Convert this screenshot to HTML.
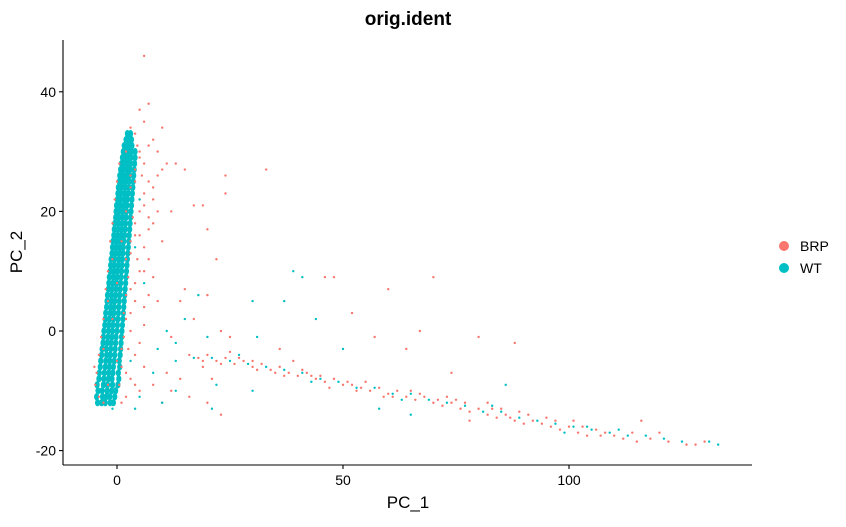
<!DOCTYPE html>
<html><head><meta charset="utf-8"><style>
body{margin:0;background:#fff;font-family:"Liberation Sans",sans-serif}
svg text{font-family:"Liberation Sans",sans-serif}
</style></head><body>
<svg id="chart" width="846" height="522">
<text x="408" y="25" text-anchor="middle" font-size="19" font-weight="bold">orig.ident</text>
<g id="pts"></g>
<g id="axes"></g>
<text x="408" y="508" text-anchor="middle" font-size="17">PC_1</text>
<text x="22" y="252" text-anchor="middle" font-size="17" transform="rotate(-90 22 252)">PC_2</text>
<g>
<g><circle cx="784" cy="246" r="5" fill="#F8766D"/><text x="800" y="251" font-size="14">BRP</text></g>
<g><circle cx="784" cy="268" r="5" fill="#00BFC4"/><text x="800" y="273" font-size="14">WT</text></g>
</g>
</svg>
<script>
const xTicks=[0,50,100];
const yTicks=[-20,0,20,40];
const brpPoints=[[4,33],[5,30],[6,28],[4,27],[7,25],[3,24],[6,23],[8,22],[5,20],[4,18],[7,17],[3,15],[6,14],[2,12],[5,10],[8,9],[3,7],[4,5],[6,4],[2,2],[3,0],[5,-2],[4,-4],[6,-6],[3,-8],[5,-10],[2,-11],[1,-12],[7,31],[9,30],[9,26],[8,24],[10,27],[6,35],[5,37],[7,38],[6,46],[8,32],[9,20],[7,19],[10,15],[-4,-11],[-3,-12],[-2,-9],[-5,-6],[0,-5],[1,-3],[-1,2],[0,8],[1,15],[2,20],[3,26],[-3,-3],[-2,5],[-1,12],[2,30],[3,34],[10,34],[11,28],[8,18],[13,28],[15,27],[12,20],[7,12],[9,5],[12,-1],[11,-7],[14,-8],[8,-9],[10,-12],[12,-10],[16,-11],[20,-12],[21,-8],[23,-14],[19,-6],
[17,21],[19,21],[24,26],[24,23],[20,17],[33,27],[22,12],[20,6],[23,0],[25,-1],[30,-5],[36,-3],[48,9],[46,9],[70,9],[60,7],[52,3],[67,0],[80,-1],[64,-3],[57,-1],[74,-7],[88,-2],[78,-15],[82,-12],[120,-17],[116,-15],[14,5],[15,7],[17,2],
[4.5,31],[5,29],[4,25],[5,22],[3.5,19],[4,16],[3,13],[2.5,9],[2,6],[1.5,3],[1.5,-1],[1,-6],[0.5,-9],[-4.8,-9],[-4.5,-7],[-4,-4],[-3.5,-1],[-3,2],[-2.5,7],[-2,10],[-1.5,15],[-1,18],[-0.5,22],[0,25],[0.5,28],[5.5,26],[6,21],[5,16],[4.5,12],[4,8],[3,3],[2.5,-3],[2,-7],[4,-9],[6,10],[7,6],[6,1],
[16,-4],[18,-4.5],[20,-4],[22,-5],[24,-4.5],[26,-5.5],[28,-5],[30,-6],[32,-5.5],[34,-6.5],[36,-6],[38,-7],[40,-7.5],[42,-7],[44,-8],[46,-8.5],[48,-8],[50,-9],[52,-9],[54,-9.5],[56,-10],[58,-9.5],[60,-10.5],[62,-10],[64,-11],[66,-11.5],[68,-11],[70,-12],[72,-12.5],[74,-12],[76,-13],[78,-13.5],[80,-13],[82,-14],[84,-14.5],[86,-14],[88,-15],[90,-15.5],[92,-15],[94,-15.5],[96,-16],[98,-16.5],[100,-16],[102,-17],[104,-17.5],[106,-16.5],[108,-17],[110,-17.5],[112,-18],[114,-17],[118,-18],[122,-18.5],[126,-19],[128,-19],[130,-18.5],[25,-3.5],[35,-7],[45,-7.5],[55,-8.5],[65,-10],[75,-11.5],[85,-13],[95,-14.5],[39,-5],[47,-9.5],[59,-11],[73,-11],[89,-13.5],[101,-15],
[19,-5],[23,-5.5],[27,-4.5],[31,-6.5],[37,-7.5],[41,-6.5],[43,-7.5],[51,-8.5],[53,-10],[61,-11],[67,-10.5],[71,-11.5],[77,-12],[83,-13],[87,-14.5],[91,-14],[97,-15],[103,-16],[107,-17.5],[115,-18.5]];
const wtArmY=[-12,-11,-10,-9,-8,-7,-6,-5,-4,-3,-2,-1,0,1,2,3,4,5,6,7,8,9,10,11,12,13,14,15,16,17,18,19,20,21,22,23,24,25,26,27,28,29,30,31,32,33];
const wtArmX=[[-4.3,-3.4,-2.6,-1.5,-0.8],[-4.5,-3.2,-2.4,-1.6,-0.5],[-4.2,-3.3,-2.2,-1.2,-0.3],[-4.4,-3.0,-2.1,-1.0,0.2],[-4.0,-2.9,-1.9,-1.1,0.4],[-3.9,-2.8,-1.8,-0.9,0.3],[-3.7,-2.6,-1.7,-0.8,0.6],[-3.6,-2.5,-1.6,-0.6,0.5],[-3.4,-2.3,-1.5,-0.5,0.7],[-3.3,-2.4,-1.4,-0.4,0.8],[-3.1,-2.2,-1.3,-0.3,0.9],[-3.0,-2.0,-1.1,-0.2,1.0],[-2.9,-1.9,-1.0,0.0,1.1],[-2.7,-1.8,-0.9,0.1,1.2],[-2.6,-1.7,-0.8,0.2,1.3],[-2.5,-1.5,-0.7,0.3,1.4],[-2.3,-1.4,-0.6,0.4,1.5],[-2.2,-1.3,-0.5,0.5,1.6],[-2.1,-1.2,-0.3,0.6,1.7],[-1.9,-1.1,-0.2,0.7,1.8],[-1.8,-0.9,-0.1,0.8,1.9],[-1.7,-0.8,0.0,0.9,2.0],[-1.5,-0.7,0.1,1.0,2.1],[-1.4,-0.6,0.3,1.1,2.2],[-1.3,-0.5,0.4,1.2,2.3],[-1.1,-0.3,0.5,1.3,2.4],[-1.0,-0.2,0.6,1.4,2.5],[-0.9,-0.1,0.7,1.5,2.6],[-0.7,0.1,0.9,1.7,2.7],[-0.6,0.2,1.0,1.8,2.8],[-0.5,0.3,1.1,1.9,2.9],[-0.3,0.4,1.2,2.0,3.0],[-0.2,0.5,1.3,2.1,3.1],[-0.1,0.7,1.5,2.2,3.2],[0.1,0.8,1.6,2.3,3.3],[0.2,0.9,1.7,2.5,3.4],[0.3,1.0,1.8,2.6,3.5],[0.5,1.2,1.9,2.7,3.6],[0.6,1.3,2.1,2.8,3.7],[0.8,1.4,2.2,2.9,3.8],[1.0,1.6,2.3,3.0,3.9],[1.2,1.8,2.4,3.1,4.0],[1.4,2.0,2.5,3.2,4.0],[1.6,2.2,2.7,3.3],[2.0,2.6,3.2],[2.3,3.0]];
const wtPoints=[[5,22],[4,14],[6,8],[3,-5],[5,-11],[-1,-13],[4,-13],[8,-7],[10,-12],[13,-10],[21,-13],[9,-3],[11,0],[13,-2],[15,2],[20,-1],[18,6],[30,5],[37,5],[31,-1],[44,2],[50,-3],[41,9],[39,10],[86,-9],[104,-16],[58,-13],[65,-14],[30,-10],[13,-5],[22,-9],
[17,-4.5],[21,-4.5],[25,-5],[29,-5.5],[33,-6],[37,-6.5],[41,-7],[45,-8],[49,-8.5],[53,-9.5],[57,-9.5],[61,-10.5],[65,-10.5],[69,-11.5],[73,-12],[77,-12.5],[81,-13.5],[85,-13.5],[89,-14.5],[93,-15],[97,-15.5],[101,-16],[105,-16.5],[109,-17],[113,-17.5],[117,-17.5],[121,-18],[125,-18.5],[131,-18.5],[133,-19],[27,-4],[43,-8.5],[63,-11.5],[83,-12.5],[99,-17],[111,-16.5]];

const NS='http://www.w3.org/2000/svg';
const X0=63,X1=752,Y0=40,Y1=465;
function sx(v){return 117+v*4.52;}
function sy(v){return 331-v*5.98;}
const pts=document.getElementById('pts');
function dot(x,y,c,rx,ry,name){
  const e=document.createElementNS(NS,'ellipse');
  e.setAttribute('cx',sx(x));e.setAttribute('cy',sy(y));e.setAttribute('rx',rx);e.setAttribute('ry',ry);e.setAttribute('fill',c);
  
  
  pts.appendChild(e);
}
wtArmY.forEach((y,i)=>wtArmX[i].forEach(x=>dot(x,y,'#00BFC4',2.6,3.6,'point-wt')));
brpPoints.forEach(p=>dot(p[0],p[1],'#F8766D',1.2,1.2,'point-brp'));
wtPoints.forEach(p=>dot(p[0],p[1],'#00BFC4',1.2,1.2,'point-wt'));

const ax=document.getElementById('axes');
function line(x1,y1,x2,y2,name){
  const l=document.createElementNS(NS,'line');
  l.setAttribute('x1',x1);l.setAttribute('y1',y1);l.setAttribute('x2',x2);l.setAttribute('y2',y2);
  l.setAttribute('stroke','#000');l.setAttribute('stroke-width','1.1');
  
  
  ax.appendChild(l);
}
function txt(x,y,s,anchor,name){
  const t=document.createElementNS(NS,'text');
  t.setAttribute('x',x);t.setAttribute('y',y);t.setAttribute('text-anchor',anchor);t.setAttribute('font-size','14');
  t.textContent=s;
  
  
  ax.appendChild(t);
}
line(X0,Y0,X0,Y1,'y-axis-line');
line(X0,Y1,X1,Y1,'x-axis-line');
xTicks.forEach(v=>{line(sx(v),Y1,sx(v),Y1+4,'x-tick');txt(sx(v),Y1+20,String(v),'middle','x-tick-label');});
yTicks.forEach(v=>{line(X0-4,sy(v),X0,sy(v),'y-tick');txt(X0-7,sy(v)+5,String(v),'end','y-tick-label');});
</script>
</body></html>
